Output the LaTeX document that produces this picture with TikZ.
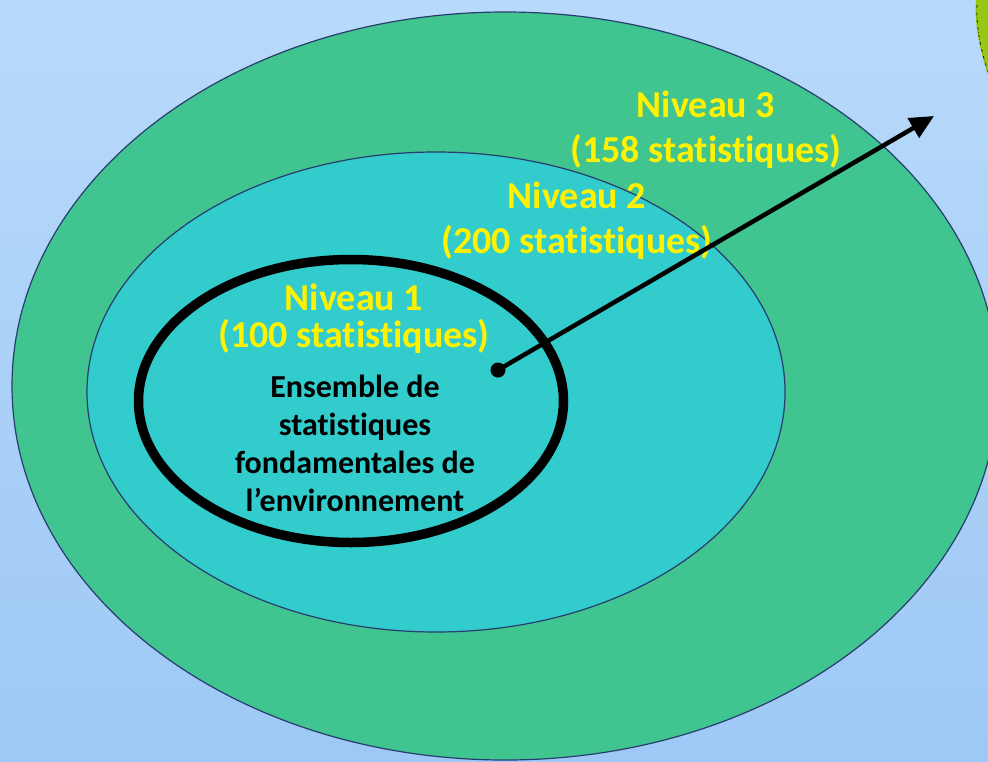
\documentclass[tikz,border=0pt]{standalone}
\usepackage{fontspec}
\setmainfont{Carlito}[RawFeature={-liga;-clig;-dlig;-calt;-rlig}]
\usetikzlibrary{shapes.geometric,arrows.meta}
\definecolor{fondhaut}{RGB}{184,218,250}
\definecolor{fondbas}{RGB}{158,200,246}
\definecolor{vert}{RGB}{64,196,144}
\definecolor{cyan}{RGB}{51,204,204}
\definecolor{bord}{RGB}{40,60,110}
\definecolor{tache}{RGB}{150,200,20}

\begin{document}
\begin{tikzpicture}[x=1pt,y=-1pt]
	\tikzstyle{every node}+=[inner sep=0pt]
	\tikzstyle{niveau}=[ellipse, draw=bord, line width=1.2pt]
	\tikzstyle{jaune}=[text=yellow, align=center, font=\fontsize{38}{45}\selectfont\bfseries]
	\useasboundingbox (0,0) rectangle (988,761);
	\shade [top color=fondhaut, bottom color=fondbas] (0,0) rectangle (988,761);
	\fill [tache] (976,0) .. controls (974,25) and (980,50) .. (988,75) -- (988,0) -- cycle;
	\draw [black, dash dot, line width=0.6pt] (977,5) .. controls (976,28) and (981,50) .. (988,72);
	\node [niveau, fill=vert, minimum width=986pt, minimum height=748pt] (n3) at (505,386) {};
	\node [niveau, fill=cyan, minimum width=698pt, minimum height=480pt] (n2) at (436,392) {};
	\node [ellipse, draw=black, line width=9.5pt, minimum width=425pt, minimum height=283pt] (n1) at (351,401) {};
	\node [jaune] (t3) at (706,130) {Niveau 3\\(158 statistiques)};
	\node [jaune] (t2) at (577,221) {Niveau 2\\(200 statistiques)};
	\node [jaune, font=\fontsize{38}{37}\selectfont\bfseries] (t1) at (354,319) {Niveau 1\\(100 statistiques)};
	\node [align=center, font=\fontsize{32}{38}\selectfont\bfseries] (base) at (355,443) {Ensemble de\\statistiques\\fondamentales de\\l’environnement};
	\node [circle, fill=black, minimum size=15pt] (point) at (498,370) {};
	\coordinate (fin) at (934,116);
	\draw [line width=4.5pt, -{Triangle[length=24pt,width=22pt]}] (point.center) -- (fin);
\end{tikzpicture}
\end{document}
